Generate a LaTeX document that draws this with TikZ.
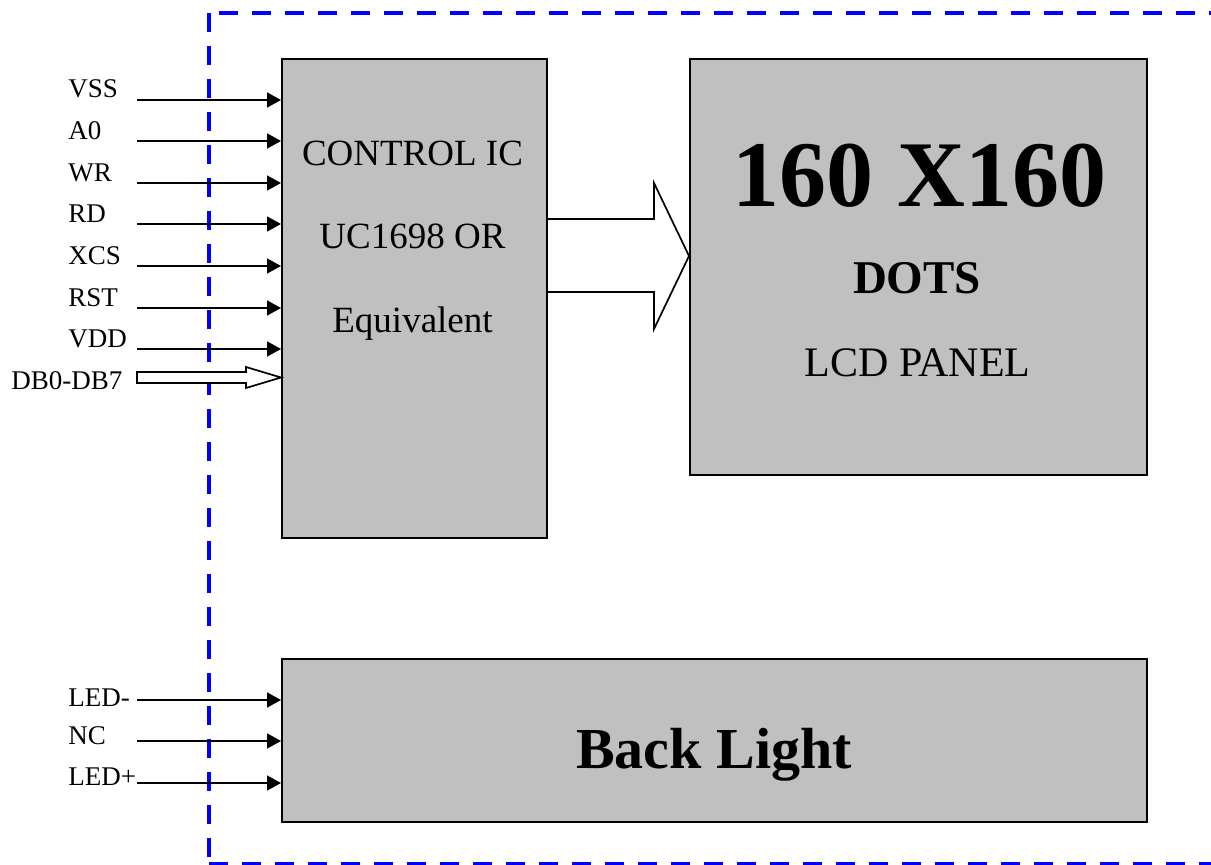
\documentclass[tikz,border=0pt]{standalone}
\usepackage{fontspec}
\setmainfont{Liberation Serif}
\usetikzlibrary{arrows.meta,positioning}
\definecolor{panelgray}{RGB}{192,192,192}
\begin{document}
\begin{tikzpicture}[x=0.5pt, y=-0.5pt,
  block/.style={draw, line width=1.1pt, fill=panelgray, anchor=north west, inner sep=0pt},
  sig/.style={anchor=base west, inner sep=0pt, font=\fontsize{13.5}{16}\selectfont},
  inside/.style={anchor=base, inner sep=0pt},
  pin/.style={-{Triangle[length=7pt, width=7.5pt]}, line width=0.8pt},
  hollow/.style={draw, line width=0.85pt, fill=white, line join=miter},
  frame/.style={draw=blue, line width=1.8pt, dash pattern=on 9.5pt off 7pt}
]
\useasboundingbox (0,0) rectangle (1211,865);

% module outline
\draw[frame] (209,13) -- (209,864);
\draw[frame] (219,13) -- (1230,13);
\draw[frame] (209,864) -- (1230,864);

% blocks
\node[block, minimum width=132.5pt, minimum height=239.5pt] (ctrl) at (281,58) {};
\node[block, minimum width=228.5pt, minimum height=208pt] (lcd) at (689,58) {};
\node[block, minimum width=432.5pt, minimum height=81.5pt] (bl) at (281,658) {};

\node[inside, font=\fontsize{18.5}{22}\selectfont] (ic1) at (412.5,166) {CONTROL IC};
\node[inside, font=\fontsize{18.5}{22}\selectfont] (ic2) at (412.5,249) {UC1698 OR};
\node[inside, font=\fontsize{18.5}{22}\selectfont] (ic3) at (412.5,333) {Equivalent};

\node[inside, font=\bfseries\fontsize{47}{56}\selectfont] (res) at (919.5,207) {160 X160};
\node[inside, font=\bfseries\fontsize{23.5}{28}\selectfont] (dots) at (917,294) {DOTS};
\node[inside, font=\fontsize{21}{25}\selectfont] (panel) at (917.5,377) {LCD PANEL};

\node[inside, font=\bfseries\fontsize{29}{35}\selectfont] (bltext) at (714,769) {Back Light};

% interface pins
\node[sig] (vss) at (68,98) {VSS};
\node[sig] (a0) at (68,140) {A0};
\node[sig] (wr) at (68,182) {WR};
\node[sig] (rd) at (68,223) {RD};
\node[sig] (xcs) at (68,265) {XCS};
\node[sig] (rst) at (68,307) {RST};
\node[sig] (vdd) at (68,348) {VDD};
\node[sig] (db) at (11,390) {DB0-DB7};

\coordinate (vss in) at (137,100);
\coordinate (a0 in) at (137,141);
\coordinate (wr in) at (137,183);
\coordinate (rd in) at (137,224);
\coordinate (xcs in) at (137,266);
\coordinate (rst in) at (137,308);
\coordinate (vdd in) at (137,349);
\coordinate (db in) at (137,377.5);

\draw[pin] (vss in) -- (vss in -| ctrl.west);
\draw[pin] (a0 in) -- (a0 in -| ctrl.west);
\draw[pin] (wr in) -- (wr in -| ctrl.west);
\draw[pin] (rd in) -- (rd in -| ctrl.west);
\draw[pin] (xcs in) -- (xcs in -| ctrl.west);
\draw[pin] (rst in) -- (rst in -| ctrl.west);
\draw[pin] (vdd in) -- (vdd in -| ctrl.west);
\draw[hollow] (137,372) -- (246,372) -- (246,367) -- (db in -| ctrl.west)
  -- (246,388) -- (246,383) -- (137,383) -- cycle;

% data path to panel
\coordinate (bus up) at (0,219);
\coordinate (bus mid) at (0,256);
\coordinate (bus low) at (0,292);
\draw[hollow] (bus up -| ctrl.east) -- (654,219) -- (654,183) -- (bus mid -| lcd.west)
  -- (654,329) -- (654,292) -- (bus low -| ctrl.east);

% backlight pins
\node[sig] (ledm) at (68,707) {LED-};
\node[sig] (nc) at (68,745) {NC};
\node[sig] (ledp) at (68,786) {LED+};

\coordinate (ledm in) at (137,700);
\coordinate (nc in) at (137,741);
\coordinate (ledp in) at (137,783);

\draw[pin] (ledm in) -- (ledm in -| bl.west);
\draw[pin] (nc in) -- (nc in -| bl.west);
\draw[pin] (ledp in) -- (ledp in -| bl.west);
\end{tikzpicture}
\end{document}
